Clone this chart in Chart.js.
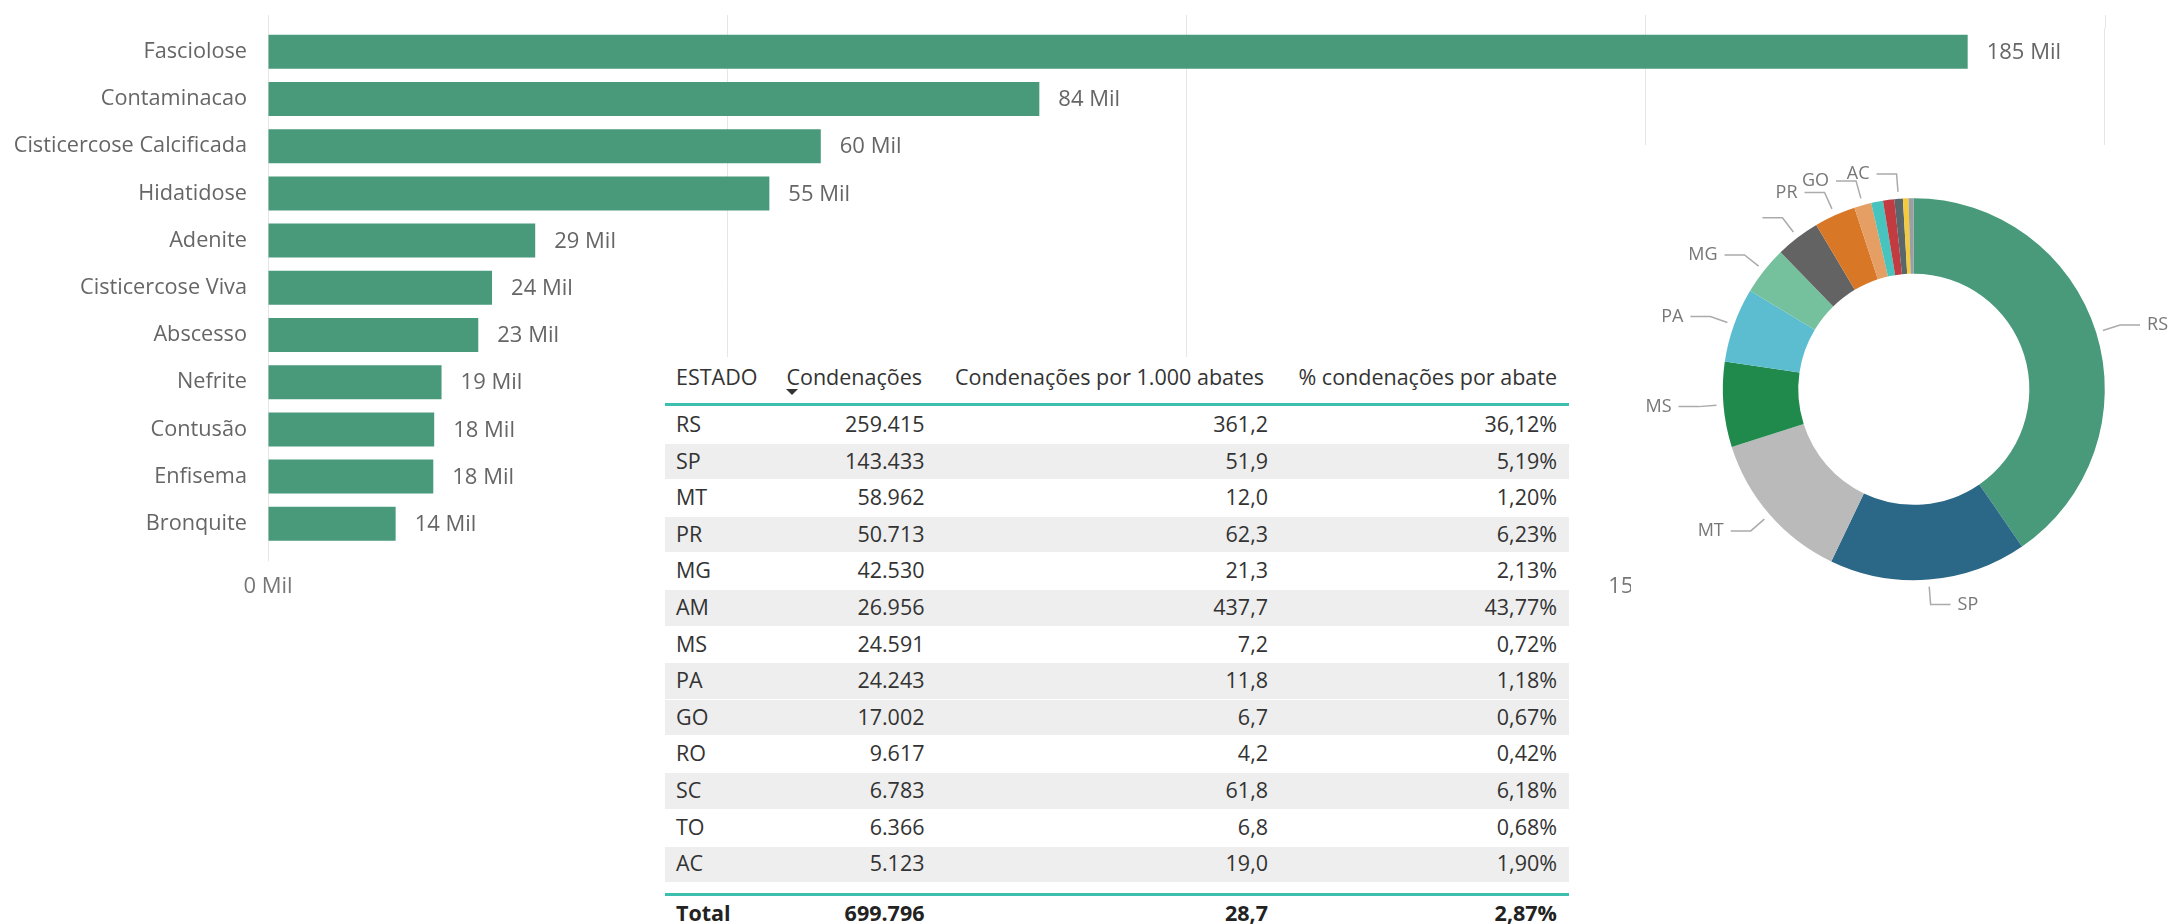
<!DOCTYPE html>
<html>
<head>
<meta charset="utf-8">
<script src="https://cdn.jsdelivr.net/npm/chart.js@4.4.1/dist/chart.umd.min.js"></script>
<style>
html,body{margin:0;padding:0;background:#fff;width:2170px;height:924px;overflow:hidden;font-family:'Open Sans',sans-serif;}
#bar{position:absolute;left:0;top:0;}
#tableWrap{position:absolute;left:655px;top:357px;width:920px;height:567px;background:#fff;overflow:hidden;}
#tbl{position:absolute;left:10px;top:0;width:904px;font-size:21.5px;color:#333;}
.row{display:flex;height:36.6px;line-height:36.6px;white-space:nowrap;}
.row span{display:block;box-sizing:border-box;flex:none;}
.hdr{height:49px;line-height:40px;box-sizing:border-box;border-bottom:3px solid #3DBFB0;}
.c1{width:110px;padding-left:11px;text-align:left;}
.c2{width:160px;padding-right:10.5px;text-align:right;}
.c3{width:343px;padding-right:10px;text-align:right;}
.c4{width:291px;padding-right:12px;text-align:right;}
.hdr .c2{padding-right:13px;}
.hdr .c3{padding-right:14px;}
.g{background:linear-gradient(#fff 0,#fff 1.5px,#eeeeee 1.5px);}
.spacer{height:11px;}
.tot{height:34px;line-height:34px;border-top:3px solid #3DBFB0;font-weight:bold;color:#222;}
#sortArrow{position:absolute;left:131px;top:32px;width:0;height:0;border-left:6px solid transparent;border-right:6px solid transparent;border-top:6px solid #333;}
#donutWrap{position:absolute;left:1631px;top:145px;width:539px;height:779px;background:#fff;}
#donut{position:absolute;left:0;top:0;}
</style>
</head>
<body>
<canvas id="bar" width="2170" height="924"></canvas>
<div id="tableWrap"><div id="tbl"></div><div id="sortArrow"></div></div>
<div id="donutWrap"><canvas id="donut" width="539" height="779"></canvas></div>
<script>
// ---------- Bar chart data ----------
const categories = ['Fasciolose','Contaminacao','Cisticercose Calcificada','Hidatidose','Adenite','Cisticercose Viva','Abscesso','Nefrite','Contusão','Enfisema','Bronquite'];
const values = [185100, 84000, 60200, 54600, 29100, 24400, 22900, 18900, 18100, 18000, 13900];
const xTickMax = 200000;
const xTickStep = 50000;

// ---------- Table data ----------
const tableHeaders = ['ESTADO','Condenações','Condenações por 1.000 abates','% condenações por abate'];
const tableStates = ['RS','SP','MT','PR','MG','AM','MS','PA','GO','RO','SC','TO','AC'];
const tableCondenacoes = [259415,143433,58962,50713,42530,26956,24591,24243,17002,9617,6783,6366,5123];
const tablePor1000 = [361.2,51.9,12.0,62.3,21.3,437.7,7.2,11.8,6.7,4.2,61.8,6.8,19.0];
const tablePct = [36.12,5.19,1.20,6.23,2.13,43.77,0.72,1.18,0.67,0.42,6.18,0.68,1.90];
const totalLabel = 'Total';
const totalCondenacoes = 699796;
const totalPor1000 = 28.7;
const totalPct = 2.87;

// ---------- Donut data ----------
const donutStates = ['RS','SP','MT','MS','PA','MG','AM','PR','GO','RO','SC','AC','TO','Outros'];
const donutValues = [40.4,16.7,13.0,7.2,6.3,4.1,3.75,3.5,1.45,1.0,0.95,0.72,0.47,0.44];
const donutCallout = ['RS','SP','MT','MS','PA','MG','','PR','GO',null,null,'AC',null,null];

// ---------- styles ----------
const BAR = '#489A7B';
const GRID = '#E6E6E6';
const donutColors = ['#489A7B','#2B6787','#BABABA','#1F8A4B','#5DBDD0','#75C19E','#636363','#D87726','#E59E63','#46C4BD','#C23B40','#5A666A','#F3CA3E','#9A9FA3'];
const shadedRows = [0,1,0,1,0,1,0,1,1,0,1,0,1];

function fmtInt(n){return String(n).replace(/\B(?=(\d{3})+(?!\d))/g,'.');}
function fmtDec(n,d){return n.toFixed(d).replace('.',',');}

// ---------- Table ----------
(function(){
  const t = document.getElementById('tbl');
  let h = '<div class="row hdr"><span class="c1">'+tableHeaders[0]+'</span><span class="c2">'+tableHeaders[1]+'</span><span class="c3">'+tableHeaders[2]+'</span><span class="c4">'+tableHeaders[3]+'</span></div>';
  tableStates.forEach((s,i)=>{
    h += '<div class="row'+(shadedRows[i]?' g':'')+'"><span class="c1">'+s+'</span><span class="c2">'+fmtInt(tableCondenacoes[i])+'</span><span class="c3">'+fmtDec(tablePor1000[i],1)+'</span><span class="c4">'+fmtDec(tablePct[i],2)+'%</span></div>';
  });
  h += '<div class="spacer"></div>';
  h += '<div class="row tot"><span class="c1">'+totalLabel+'</span><span class="c2">'+fmtInt(totalCondenacoes)+'</span><span class="c3">'+fmtDec(totalPor1000,1)+'</span><span class="c4">'+fmtDec(totalPct,2)+'%</span></div>';
  t.innerHTML = h;
})();

// ---------- Bar chart ----------
const gridTop = {
  id:'gridTop',
  beforeDatasetsDraw(chart){
    const s = chart.scales.x, ctx = chart.ctx;
    ctx.save(); ctx.strokeStyle = GRID; ctx.lineWidth = 1;
    s.ticks.forEach(t=>{
      const x = Math.round(s.getPixelForValue(t.value)) + 0.5;
      ctx.beginPath(); ctx.moveTo(x, 15); ctx.lineTo(x, chart.chartArea.top); ctx.stroke();
    });
    ctx.restore();
  }
};
const barValueLabels = {
  id:'barValueLabels',
  afterDatasetsDraw(chart){
    const ctx = chart.ctx, meta = chart.getDatasetMeta(0);
    ctx.save();
    ctx.font = '22px "Open Sans"';
    ctx.fillStyle = '#666';
    ctx.textBaseline = 'middle'; ctx.textAlign = 'left';
    meta.data.forEach((bar,i)=>{
      ctx.fillText(Math.round(values[i]/1000)+' Mil', bar.x + 19, bar.y + 1);
    });
    ctx.restore();
  }
};
new Chart(document.getElementById('bar'), {
  type:'bar',
  data:{labels:categories, datasets:[{data:values, backgroundColor:BAR, borderWidth:0, barPercentage:0.72, categoryPercentage:1}]},
  options:{
    indexAxis:'y', responsive:false, animation:false, events:[], devicePixelRatio:1,
    layout:{padding:{left:0, top:28.2, right:65.5, bottom:316.6}},
    plugins:{legend:{display:false}, tooltip:{enabled:false}},
    scales:{
      x:{type:'linear', min:0, max:xTickMax,
         ticks:{stepSize:xTickStep, callback:v=>(v/1000)+' Mil', font:{family:'Open Sans', size:22}, color:'#777', padding:12, maxRotation:0, autoSkip:false},
         grid:{color:GRID, lineWidth:1, tickLength:14, drawTicks:true},
         border:{display:false},
         afterFit:s=>{s.height=60;}},
      y:{ticks:{font:{family:'Open Sans', size:21.7}, color:'#666', padding:21, autoSkip:false},
         grid:{display:false, drawTicks:false},
         border:{display:false},
         afterFit:s=>{s.width=268; s.paddingTop=0; s.paddingBottom=0;}}
    }
  },
  plugins:[gridTop, barValueLabels]
});

// ---------- Donut ----------
const donutCallouts = {
  id:'donutCallouts',
  afterDraw(chart){
    const ctx = chart.ctx, meta = chart.getDatasetMeta(0);
    ctx.save();
    ctx.strokeStyle = '#ABABAB'; ctx.lineWidth = 1.5; ctx.fillStyle = '#777';
    ctx.font = '18px "Open Sans"'; ctx.textBaseline = 'middle';
    meta.data.forEach((arc,i)=>{
      const txt = donutCallout[i];
      if (txt === null || txt === undefined) return;
      const p = arc.getProps(['x','y','startAngle','endAngle','outerRadius'], true);
      const mid = (p.startAngle + p.endAngle)/2, c = Math.cos(mid), s = Math.sin(mid);
      const x1 = p.x + (p.outerRadius+7)*c, y1 = p.y + (p.outerRadius+7)*s;
      const x2 = p.x + (p.outerRadius+25)*c, y2 = p.y + (p.outerRadius+25)*s;
      const dir = c >= 0 ? 1 : -1;
      const x3 = x2 + dir*20;
      ctx.beginPath(); ctx.moveTo(x1,y1); ctx.lineTo(x2,y2); ctx.lineTo(x3,y2); ctx.stroke();
      if (txt) { ctx.textAlign = dir>0 ? 'left' : 'right'; ctx.fillText(txt, x3 + dir*7, y2); }
    });
    ctx.restore();
  }
};
new Chart(document.getElementById('donut'), {
  type:'doughnut',
  data:{labels:donutStates, datasets:[{data:donutValues, backgroundColor:donutColors, borderWidth:0, hoverOffset:0}]},
  options:{
    responsive:false, animation:false, events:[], devicePixelRatio:1,
    cutout:'60.5%', radius:191,
    layout:{padding:{left:91.8, top:53.2, right:65.2, bottom:343.8}},
    plugins:{legend:{display:false}, tooltip:{enabled:false}}
  },
  plugins:[donutCallouts]
});
</script>
</body>
</html>
